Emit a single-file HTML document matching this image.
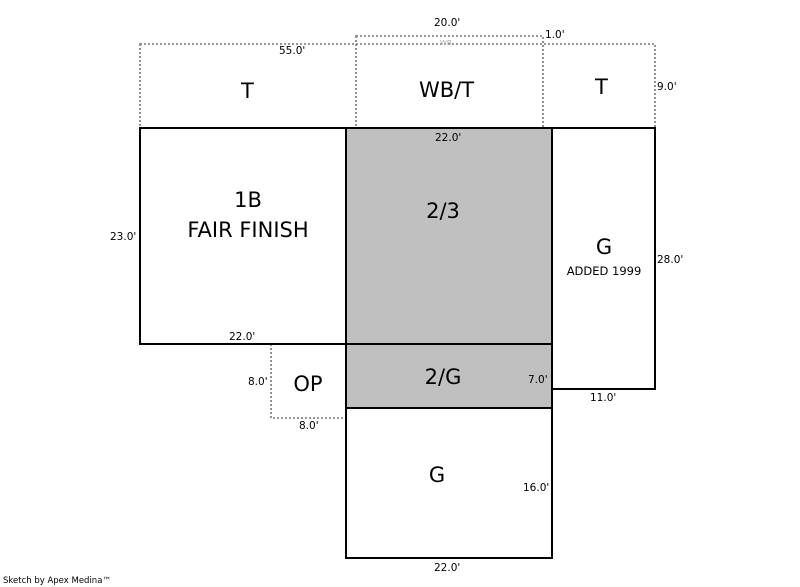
<!DOCTYPE html>
<html><head><style>
body{margin:0;background:#fff;width:800px;height:587px;overflow:hidden}
svg{display:block}
text{font-family:"DejaVu Sans","Liberation Sans",sans-serif;fill:#000}
.s{font-size:10.5px}
.b{font-size:21px}
</style></head><body>
<svg width="800" height="587" viewBox="0 0 800 587">
<g fill="none" stroke="#777" stroke-width="1.6" stroke-dasharray="2,2">
<rect x="140" y="44" width="515" height="84"/>
<rect x="356" y="36" width="187" height="92"/>
<polyline points="271,344 271,418 346,418"/>
</g>
<rect x="346" y="128" width="206" height="280" fill="#c0c0c0"/>
<g fill="none" stroke="#000" stroke-width="2">
<rect x="140" y="128" width="206" height="216"/>
<rect x="346" y="128" width="206" height="216"/>
<rect x="552" y="128" width="103" height="261"/>
<rect x="346" y="344" width="206" height="64"/>
<rect x="346" y="408" width="206" height="150"/>
</g>
<text class="s" x="434" y="26">20.0'</text>
<text class="s" x="545" y="38">1.0'</text>
<text x="440" y="45" style="font-size:7px;fill:#aaa">WB</text>
<text class="s" x="279" y="54">55.0'</text>
<text class="s" x="657" y="90">9.0'</text>
<text class="b" x="241" y="98">T</text>
<text class="b" x="419" y="97">WB/T</text>
<text class="b" x="595" y="94">T</text>
<text class="s" x="435" y="141">22.0'</text>
<text class="b" x="248" y="207" text-anchor="middle">1B</text>
<text class="b" x="248" y="237" text-anchor="middle">FAIR FINISH</text>
<text class="s" x="110" y="240">23.0'</text>
<text class="b" x="443" y="218" text-anchor="middle">2/3</text>
<text class="b" x="604" y="254" text-anchor="middle">G</text>
<text x="604" y="275" text-anchor="middle" style="font-size:11.5px">ADDED 1999</text>
<text class="s" x="657" y="263">28.0'</text>
<text class="s" x="229" y="340">22.0'</text>
<text class="s" x="248" y="385">8.0'</text>
<text class="b" x="308" y="391" text-anchor="middle">OP</text>
<text class="b" x="443" y="384" text-anchor="middle">2/G</text>
<text class="s" x="528" y="383">7.0'</text>
<text class="s" x="590" y="401">11.0'</text>
<text class="s" x="299" y="429">8.0'</text>
<text class="b" x="437" y="482" text-anchor="middle">G</text>
<text class="s" x="523" y="491">16.0'</text>
<text class="s" x="434" y="571">22.0'</text>
<text x="3" y="583" style="font-size:8.5px">Sketch by Apex Medina™</text>
</svg>
</body></html>
